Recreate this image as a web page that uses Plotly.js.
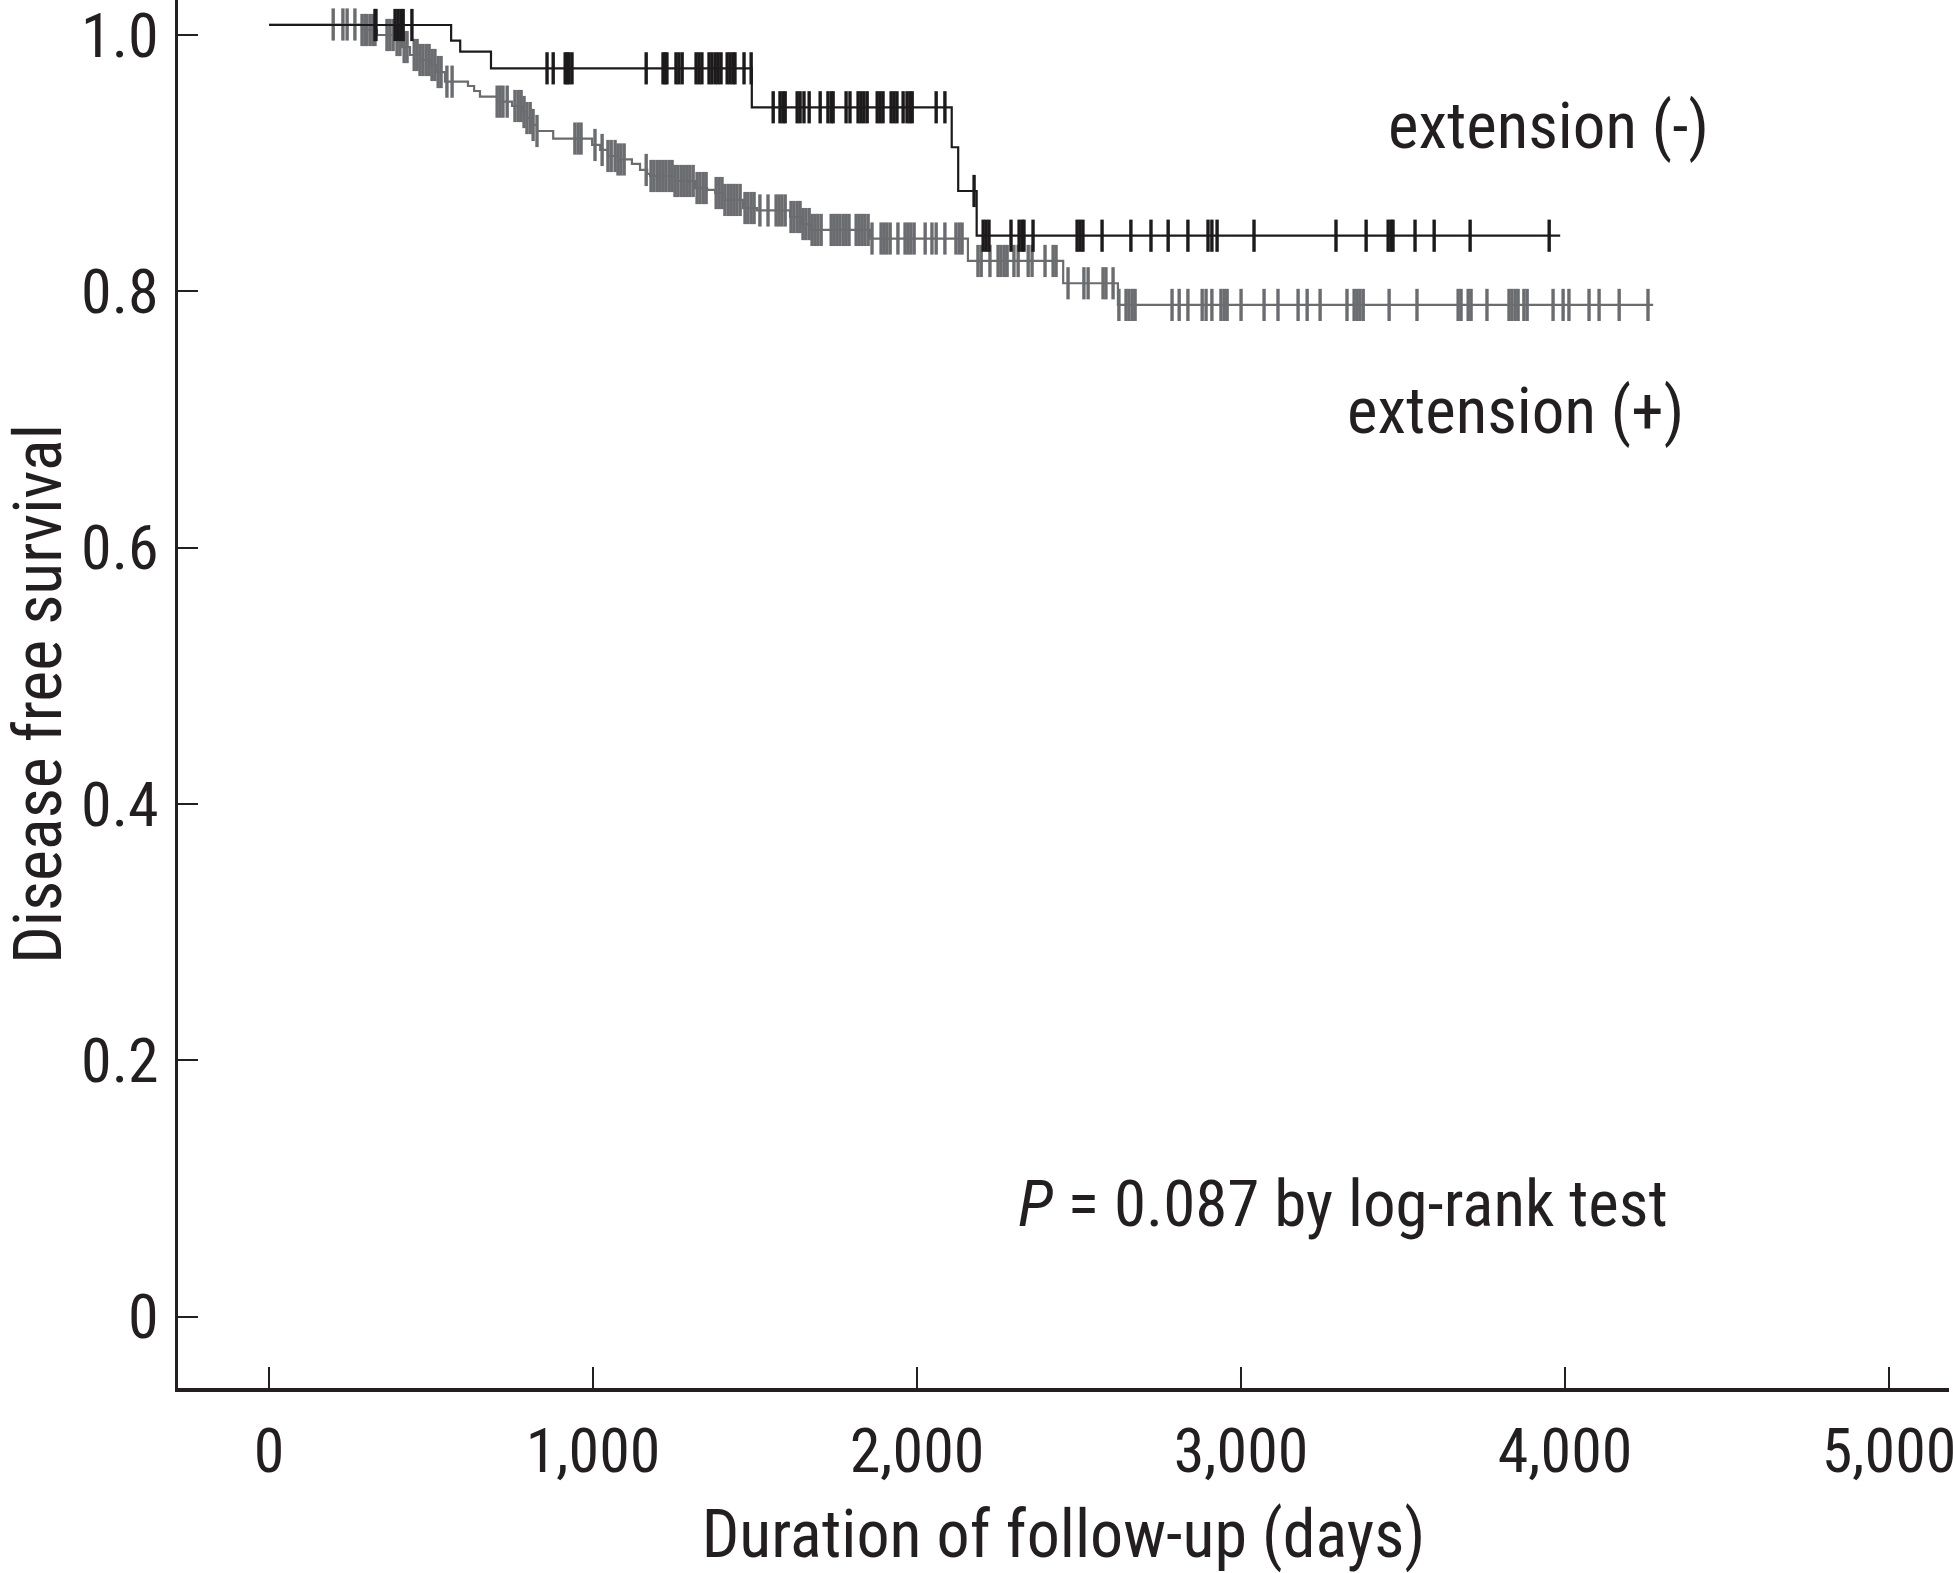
<!DOCTYPE html>
<html>
<head>
<meta charset="utf-8">
<script src="https://cdn.plot.ly/plotly-3.0.1.min.js"></script>
<style>html,body{margin:0;padding:0;background:#fff}#chart{width:1953px;height:1573px}</style>
</head>
<body>
<div id="chart"></div>
<script>
// ---- Data ----
// extension (-) : step times (days) and survival after each step
var negTimes  = [0, 562, 590, 685, 1490, 2107, 2127, 2184];
var negSurv   = [1.0078, 0.9956, 0.9870, 0.9740, 0.9436, 0.9124, 0.8783, 0.8434];
var negEnd    = 3985;
var negCensor = [327, 330, 389, 398, 407, 414, 441,
  858, 877, 914, 920, 926, 935,
  1164, 1216, 1222, 1228, 1256, 1265, 1275, 1318, 1327, 1336, 1358, 1367, 1377, 1386, 1395, 1414, 1423, 1432, 1438, 1466, 1488,
  1556, 1577, 1586, 1593, 1630, 1639, 1651, 1667, 1701, 1725, 1735, 1741, 1781, 1793, 1818, 1827, 1836, 1846, 1877, 1886, 1895, 1920, 1929, 1938, 1957, 1969, 1978, 1985, 2059, 2086,
  2176,
  2204, 2213, 2222, 2290, 2315, 2324, 2330, 2358, 2494, 2503, 2512, 2571, 2660, 2722, 2775, 2836, 2898, 2910, 2926, 3040, 3293, 3386, 3454, 3463, 3469, 3537, 3596, 3707, 3951];

// extension (+)
var posTimes = [0, 287, 333, 389, 410, 435, 466, 497, 519, 543, 614, 633, 651, 704, 750, 781, 796, 812, 827, 877,
  997, 1022, 1046, 1077, 1120, 1145, 1167, 1176, 1253, 1315, 1352, 1377, 1407, 1463, 1506, 1608, 1645, 1670, 1855, 2157, 2451, 2620];
var posSurv  = [1.0082, 1.0039, 1.0, 0.9961, 0.9906, 0.9844, 0.9805, 0.9766, 0.9711, 0.9636, 0.9602, 0.9563, 0.9519, 0.9480, 0.9446, 0.9399, 0.9352, 0.9298, 0.9251, 0.9192,
  0.9142, 0.9103, 0.9056, 0.9029, 0.8994, 0.8947, 0.8916, 0.8900, 0.8861, 0.8806, 0.8791, 0.8767, 0.8713, 0.8650, 0.8631, 0.8580, 0.8525, 0.8479, 0.8412, 0.8237, 0.8063, 0.7894];
var posEnd   = 4272;
var posCensor = [198, 228, 241, 265, 287, 296, 302, 312, 321, 327, 364, 373, 383,
  395, 404, 417, 426, 448, 457, 466, 475, 485, 494, 503, 512, 522, 531, 549, 565,
  704, 713, 722, 735, 759, 769, 778, 787, 796, 806, 815, 827, 944, 954, 963,
  1006, 1028, 1046, 1056, 1068, 1077, 1086, 1096, 1164, 1179, 1188, 1198, 1207, 1216, 1225, 1235, 1244, 1253,
  1262, 1272, 1281, 1290, 1299, 1309, 1321, 1330, 1340, 1349, 1380, 1389, 1398, 1407, 1417, 1426, 1435, 1444, 1454,
  1469, 1478, 1488, 1497, 1515, 1540, 1565, 1574, 1583, 1593, 1611, 1620, 1630, 1639, 1648, 1657, 1667,
  1676, 1685, 1694, 1704, 1735, 1744, 1753, 1762, 1772, 1781, 1790, 1812, 1821, 1830, 1839, 1849,
  1861, 1889, 1898, 1907, 1917, 1941, 1963, 1972, 1981, 1991, 2025, 2046, 2059, 2086, 2120, 2130, 2139,
  2188, 2198, 2225, 2250, 2259, 2269, 2278, 2299, 2312, 2343, 2355, 2395, 2420, 2429,
  2466, 2515, 2528, 2574, 2583, 2605,
  2623, 2645, 2654, 2664, 2673, 2787, 2809, 2836, 2880, 2892, 2910, 2938, 2948, 2957, 3000, 3071, 3114, 3176, 3204, 3244,
  3327, 3349, 3358, 3367, 3377, 3457, 3543, 3670, 3679, 3701, 3710, 3759, 3827, 3836, 3846, 3855, 3873, 3883,
  3963, 3994, 4012, 4074, 4105, 4167, 4256];

var xTickVals = [0, 1000, 2000, 3000, 4000, 5000];
var xTickText = ["0", "1,000", "2,000", "3,000", "4,000", "5,000"];
var yTickVals = [0, 0.2, 0.4, 0.6, 0.8, 1.0];
var yTickText = ["0", "0.2", "0.4", "0.6", "0.8", "1.0"];

var labelNeg = "extension (-)";
var labelPos = "extension (+)";
var pText = "<i>P</i> = 0.087 by log-rank test";

// ---- Font choice: first installed condensed family ----
function hasFont(name) {
  var c = document.createElement('canvas').getContext('2d');
  var s = 'abcdefghijklmnopqrstuvwxyz0123456789';
  var res = false;
  ['monospace', 'serif'].forEach(function (b) {
    c.font = '72px ' + b; var w0 = c.measureText(s).width;
    c.font = '72px "' + name + '", ' + b; var w1 = c.measureText(s).width;
    if (Math.abs(w1 - w0) > 0.5) res = true;
  });
  return res;
}
var candidates = [["Roboto Condensed", 1.0], ["Liberation Sans Narrow", 1.0], ["DejaVu Sans Condensed", 0.9]];
var FAM = "DejaVu Sans Condensed", SC = 0.9;
for (var k = 0; k < candidates.length; k++) { if (hasFont(candidates[k][0])) { FAM = candidates[k][0]; SC = candidates[k][1]; break; } }
var FONT = '"' + FAM + '", sans-serif';
var FS_TICK = Math.round(62 * SC), FS_TITLE = Math.round(66 * SC), FS_ANN = Math.round(65 * SC);

// ---- Build traces ----
function levelAt(times, surv, t) {
  var v = surv[0];
  for (var i = 0; i < times.length; i++) { if (times[i] <= t) v = surv[i]; }
  return v;
}
function curve(times, surv, end, color) {
  return { x: times.concat([end]), y: surv.concat([surv[surv.length - 1]]), mode: 'lines',
    line: { shape: 'hv', color: color, width: 2.2 }, hoverinfo: 'skip', showlegend: false };
}
function censors(times, surv, cens, color) {
  return { x: cens, y: cens.map(function (t) { return levelAt(times, surv, t); }), mode: 'markers',
    marker: { symbol: 'line-ns', size: 23, color: color, line: { color: color, width: 3.4 } },
    hoverinfo: 'skip', showlegend: false };
}
var grayC = '#6b6c6f', blackC = '#1c1a1b';
var data = [
  curve(posTimes, posSurv, posEnd, grayC),
  censors(posTimes, posSurv, posCensor, grayC),
  curve(negTimes, negSurv, negEnd, blackC),
  censors(negTimes, negSurv, negCensor, blackC)
];

var txt = '#231f20';
var layout = {
  width: 1953, height: 1573,
  margin: { l: 178, r: 4, t: 0, b: 185 },
  paper_bgcolor: '#fff', plot_bgcolor: '#fff',
  font: { family: FONT, color: txt, size: FS_TICK },
  xaxis: {
    range: [-281, 5185], tickvals: xTickVals, ticktext: xTickText,
    ticks: 'inside', ticklen: 21, tickwidth: 2, tickcolor: txt,
    showline: true, linewidth: 3.5, linecolor: txt, showgrid: false, zeroline: false,
    tickfont: { family: FONT, size: FS_TICK, color: txt }, ticklabelstandoff: 6, ticklabeloverflow: 'allow',
    title: { text: 'Duration of follow-up (days)', font: { family: FONT, size: FS_TITLE, color: txt }, standoff: 27 },
    automargin: false
  },
  yaxis: {
    range: [-0.0556, 1.0273], tickvals: yTickVals, ticktext: yTickText,
    ticks: 'inside', ticklen: 20, tickwidth: 2, tickcolor: txt,
    showline: true, linewidth: 3, linecolor: txt, showgrid: false, zeroline: false,
    tickfont: { family: FONT, size: FS_TICK, color: txt }, ticklabelstandoff: 4, ticklabeloverflow: 'allow',
    title: { text: 'Disease free survival', font: { family: FONT, size: FS_TITLE, color: txt }, standoff: 20 },
    automargin: false
  },
  annotations: [
    { x: 3948, y: 0.929, xref: 'x', yref: 'y', text: labelNeg, showarrow: false, font: { family: FONT, size: FS_ANN, color: txt } },
    { x: 3846, y: 0.7066, xref: 'x', yref: 'y', text: labelPos, showarrow: false, font: { family: FONT, size: FS_ANN, color: txt } },
    { x: 3316, y: 0.0879, xref: 'x', yref: 'y', text: pText, showarrow: false, font: { family: FONT, size: FS_ANN, color: txt } }
  ]
};
Plotly.newPlot('chart', data, layout, { displayModeBar: false, staticPlot: true });
</script>
</body>
</html>
